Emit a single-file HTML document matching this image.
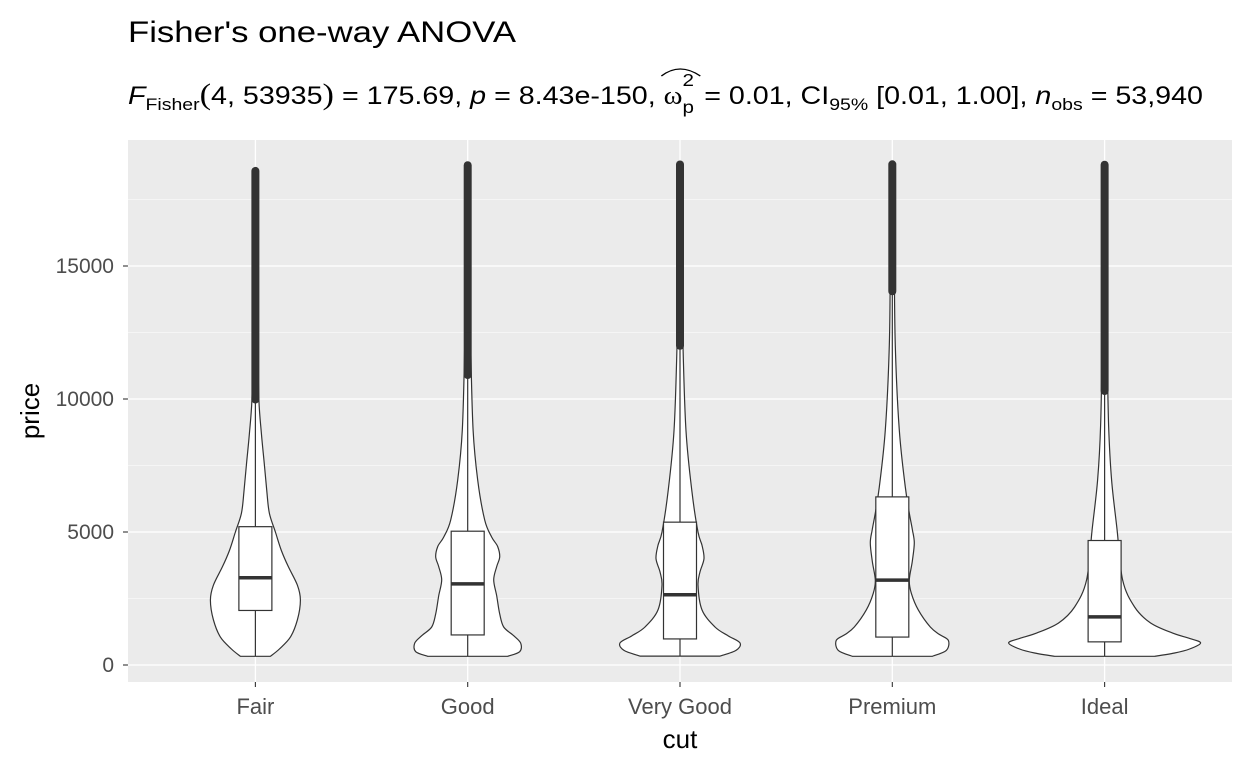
<!DOCTYPE html>
<html><head><meta charset="utf-8"><style>
body{margin:0;background:#fff;}
svg{display:block;font-family:"Liberation Sans",Arial,sans-serif;}
#subtitle text{white-space:pre;}
</style></head><body>
<svg id="chart" width="1248" height="768" viewBox="0 0 1248 768">
<text x="128" y="42" font-size="30" fill="#000" textLength="388" lengthAdjust="spacingAndGlyphs">Fisher's one-way ANOVA</text>
<g id="subtitle"></g>
<rect x="128" y="140" width="1104" height="542" fill="#ebebeb"/>
<g id="grid"></g>
<g id="marks"></g>
<g id="axes"></g>
<text x="680" y="748" font-size="26" text-anchor="middle" fill="#000">cut</text>
<text transform="translate(39,411) rotate(-90)" font-size="26" text-anchor="middle" fill="#000">price</text>
</svg>
<script>
const categories=["Fair","Good","Very Good","Premium","Ideal"];
const yTicks=[0,5000,10000,15000];
const yTickLabels=["0","5000","10000","15000"];
const q1=[2050,1130,980,1050,870];
const medians=[3280,3050,2640,3190,1810];
const q3=[5200,5030,5370,6320,4680];
const mins=[337,327,336,326,326];
const whiskerTop=[9980,10900,12000,14050,10300];
const maxs=[18574,18788,18818,18823,18806];
const densPrice=[[326,600,1050,1700,2440,3000,3690,4300,5000,5700,6500,7520,8700,9960,12000,15000,18574],
[327,500,820,1100,1430,1920,2600,3200,3700,4060,4450,4810,5450,6950,8830,12000,15000,18788],
[336,550,830,1100,1430,2070,3000,3500,4000,4500,5000,6500,8800,12000,15000,18818],
[326,550,930,1150,1430,2070,2700,3200,3900,4590,5100,5710,6690,8830,12000,15000,18823],
[326,450,600,830,1000,1200,1580,2180,3200,5080,6950,9000,12000,15000,18806]];
const densVal=[[0.15,0.24,0.35,0.42,0.45,0.42,0.33,0.26,0.20,0.14,0.115,0.09,0.06,0.035,0.025,0.018,0.01],
[0.40,0.52,0.53,0.46,0.36,0.32,0.29,0.26,0.29,0.32,0.30,0.24,0.17,0.10,0.054,0.03,0.02,0.01],
[0.40,0.56,0.60,0.48,0.35,0.22,0.18,0.20,0.24,0.22,0.18,0.12,0.06,0.03,0.02,0.01],
[0.40,0.54,0.56,0.47,0.38,0.26,0.19,0.17,0.20,0.22,0.20,0.17,0.13,0.07,0.03,0.02,0.01],
[0.50,0.70,0.85,0.96,0.85,0.68,0.46,0.30,0.18,0.125,0.07,0.04,0.025,0.018,0.01]];
const NS="http://www.w3.org/2000/svg";
const xScale=i=>128+(i+0.6)*1104/5.2;
const yScale=v=>665-v*133/5000;
const wScale=d=>d*100;
function mk(tag,attrs,parent){const e=document.createElementNS(NS,tag);for(const k in attrs)e.setAttribute(k,attrs[k]);parent.appendChild(e);return e;}
function crPath(pts){let d='';for(let i=0;i<pts.length-1;i++){const p0=pts[Math.max(0,i-1)],p1=pts[i],p2=pts[i+1],p3=pts[Math.min(pts.length-1,i+2)];
const c1=[p1[0]+(p2[0]-p0[0])/6,p1[1]+(p2[1]-p0[1])/6],c2=[p2[0]-(p3[0]-p1[0])/6,p2[1]-(p3[1]-p1[1])/6];
d+=` C${c1[0].toFixed(1)},${c1[1].toFixed(1)} ${c2[0].toFixed(1)},${c2[1].toFixed(1)} ${p2[0].toFixed(1)},${p2[1].toFixed(1)}`;}return d;}
// subtitle
const sub=document.getElementById('subtitle');
const pieces=[["F",25,0,"italic",null],["Fisher",17,6,"normal",null],["(",30,0,"normal","Liberation Serif"],["4, 53935",25,0,"normal",null],[")",30,0,"normal","Liberation Serif"],[" = 175.69, ",25,0,"normal",null],["p",25,0,"italic",null],[" = 8.43e-150, ",25,0,"normal",null],["ω",25,0,"normal","Liberation Serif"],["OMEGA_SUP",0,0,"",null],[" = 0.01, CI",25,0,"normal",null],["95%",17,6,"normal",null],[" [0.01, 1.00], ",25,0,"normal",null],["n",25,0,"italic",null],["obs",17,6,"normal",null],[" = 53,940",25,0,"normal",null]];
let cx0=128,omegaX=0;
pieces.forEach(p=>{if(p[0]==="OMEGA_SUP"){const a=mk('text',{x:cx0,y:86,'font-size':18},sub);a.textContent="2";


const b=mk('text',{x:cx0,y:113,'font-size':18},sub);b.textContent="p";


cx0+=Math.max(a.getComputedTextLength(),b.getComputedTextLength())+2;return;}
const t=mk('text',{x:cx0,y:104+p[2],'font-size':p[1],'font-style':p[3]},sub);if(p[4])t.setAttribute('font-family',p[4]);
t.setAttributeNS("http://www.w3.org/XML/1998/namespace","xml:space","preserve");
t.textContent=p[0];


if(p[0]==="ω")omegaX=cx0;
cx0+=t.getComputedTextLength();});
const hat=mk('path',{d:`M${omegaX-2} 76 Q${omegaX+14} 62 ${omegaX+32} 76`,fill:'none',stroke:'#000','stroke-width':1.3},sub);


const sx=(1203-128)/(cx0-128);
sub.setAttribute('transform',`translate(128,0) scale(${sx},1) translate(-128,0)`);
// grid & axes
const grid=document.getElementById('grid'),marks=document.getElementById('marks'),axes=document.getElementById('axes');
for(let v=2500;v<=17500;v+=5000){const l=mk('line',{x1:128,x2:1232,y1:yScale(v),y2:yScale(v),stroke:'#fff','stroke-width':0.6},grid);

}
yTicks.forEach((v,i)=>{const l=mk('line',{x1:128,x2:1232,y1:yScale(v),y2:yScale(v),stroke:'#fff','stroke-width':1.3},grid);


const t=mk('line',{x1:123,x2:128,y1:yScale(v),y2:yScale(v),stroke:'#333','stroke-width':1.1},axes);


const tx=mk('text',{x:114,y:yScale(v)+7,'font-size':21,'text-anchor':'end',fill:'#4d4d4d'},axes);
tx.textContent=yTickLabels[i];

});
categories.forEach((c,i)=>{const cx=xScale(i);
const l=mk('line',{x1:cx,x2:cx,y1:140,y2:682,stroke:'#fff','stroke-width':1.3},grid);


const g=mk('g',{},marks);


const P=densPrice[i],D=densVal[i];
const R=P.map((p,k)=>[cx+wScale(D[k]),yScale(p)]);
const L=P.map((p,k)=>[cx-wScale(D[k]),yScale(p)]).reverse();
const d=`M${R[0][0].toFixed(1)},${R[0][1].toFixed(1)}`+crPath(R)+` L${L[0][0].toFixed(1)},${L[0][1].toFixed(1)}`+crPath(L)+' Z';
const vp=mk('path',{d:d,fill:'#fff',stroke:'#333','stroke-width':1.2,'stroke-linejoin':'round'},g);


const w1=mk('line',{x1:cx,x2:cx,y1:yScale(mins[i]),y2:yScale(q1[i]),stroke:'#333','stroke-width':1.2},g);


const w2=mk('line',{x1:cx,x2:cx,y1:yScale(q3[i]),y2:yScale(whiskerTop[i]),stroke:'#333','stroke-width':1.2},g);


const ol=mk('line',{x1:cx,x2:cx,y1:yScale(whiskerTop[i]),y2:yScale(maxs[i]),stroke:'#333','stroke-width':8,'stroke-linecap':'round'},g);


const b=mk('rect',{x:cx-16.5,y:yScale(q3[i]),width:33,height:yScale(q1[i])-yScale(q3[i]),fill:'#fff',stroke:'#333','stroke-width':1.2},g);


const m=mk('line',{x1:cx-16.5,x2:cx+16.5,y1:yScale(medians[i]),y2:yScale(medians[i]),stroke:'#333','stroke-width':3.5},g);


const t=mk('line',{x1:cx,x2:cx,y1:682,y2:687,stroke:'#333','stroke-width':1.1},axes);


const tx=mk('text',{x:cx,y:714,'font-size':22,'text-anchor':'middle',fill:'#4d4d4d'},axes);
tx.textContent=c;

});
</script>
</body></html>
